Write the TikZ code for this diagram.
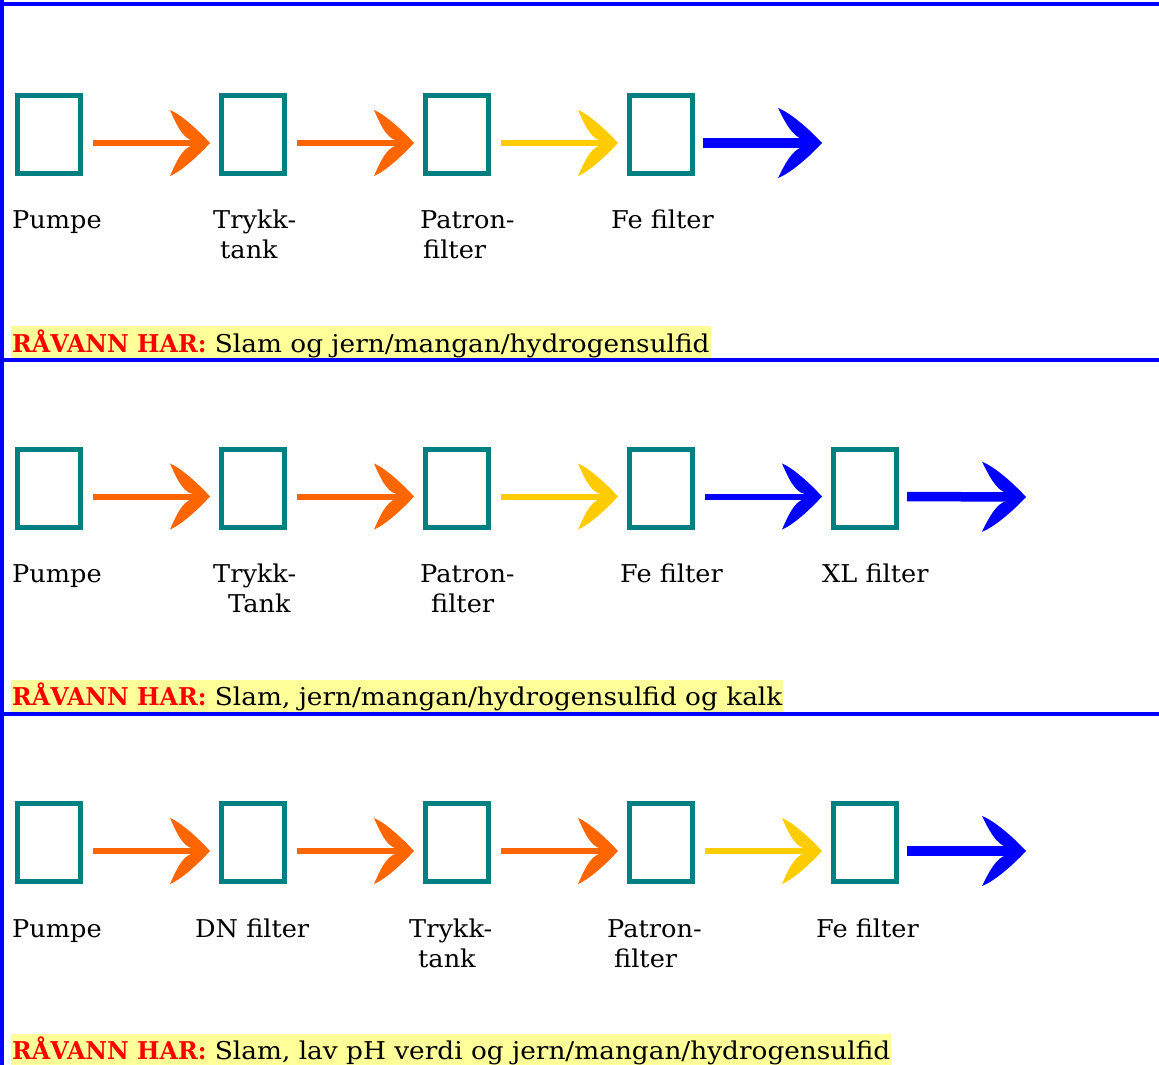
\documentclass[tikz,border=0pt]{standalone}
\usepackage{fontspec}
\setmainfont{DejaVu Serif}[FakeStretch=1.045]
\newfontfamily\notefont{DejaVu Serif}[FakeStretch=1.075]
\newfontfamily\notebold{DejaVu Serif}[FakeStretch=0.97]
\usetikzlibrary{arrows.meta}
\definecolor{boxteal}{HTML}{008080}
\definecolor{flowor}{HTML}{FF6600}
\definecolor{flowye}{HTML}{FFCC00}
\definecolor{flowbl}{HTML}{0000FF}
\definecolor{hlyel}{HTML}{FFFF99}
\definecolor{redtx}{HTML}{FF0000}

\pgfdeclarearrow{
  name = Swoosh,
  setup code = {
    \pgfarrowssettipend{0pt}
    \pgfarrowssetlineend{-10pt}
    \pgfarrowssetbackend{-40pt}
    \pgfarrowssetvisualbackend{-14pt}
    \pgfarrowshullpoint{0pt}{0pt}
    \pgfarrowsupperhullpoint{-40pt}{33pt}
  },
  drawing code = {
    \pgfpathmoveto{\pgfpointorigin}
    \pgfpathcurveto{\pgfpoint{-11pt}{12pt}}{\pgfpoint{-28pt}{28pt}}{\pgfpoint{-40pt}{33pt}}
    \pgfpathcurveto{\pgfpoint{-35pt}{22pt}}{\pgfpoint{-28pt}{4pt}}{\pgfpoint{-17pt}{2.5pt}}
    \pgfpathlineto{\pgfpoint{-17pt}{-2.5pt}}
    \pgfpathcurveto{\pgfpoint{-28pt}{-4pt}}{\pgfpoint{-35pt}{-22pt}}{\pgfpoint{-40pt}{-33pt}}
    \pgfpathcurveto{\pgfpoint{-28pt}{-28pt}}{\pgfpoint{-11pt}{-12pt}}{\pgfpointorigin}
    \pgfpathclose
    \pgfusepathqfill
  }
}
\pgfdeclarearrow{
  name = BigSwoosh,
  setup code = {
    \pgfarrowssettipend{0pt}
    \pgfarrowssetlineend{-11pt}
    \pgfarrowssetbackend{-44pt}
    \pgfarrowssetvisualbackend{-16pt}
    \pgfarrowshullpoint{0pt}{0pt}
    \pgfarrowsupperhullpoint{-44pt}{35pt}
  },
  drawing code = {
    \pgfpathmoveto{\pgfpointorigin}
    \pgfpathcurveto{\pgfpoint{-12pt}{13pt}}{\pgfpoint{-31pt}{30pt}}{\pgfpoint{-44pt}{35pt}}
    \pgfpathcurveto{\pgfpoint{-38pt}{23pt}}{\pgfpoint{-30pt}{6pt}}{\pgfpoint{-19pt}{4pt}}
    \pgfpathlineto{\pgfpoint{-19pt}{-4pt}}
    \pgfpathcurveto{\pgfpoint{-30pt}{-6pt}}{\pgfpoint{-38pt}{-23pt}}{\pgfpoint{-44pt}{-35pt}}
    \pgfpathcurveto{\pgfpoint{-31pt}{-30pt}}{\pgfpoint{-12pt}{-13pt}}{\pgfpointorigin}
    \pgfpathclose
    \pgfusepathqfill
  }
}

\tikzset{
  frame/.style={draw=flowbl, line width=3.8pt},
  unit/.style={draw=boxteal, line width=5pt, minimum width=63pt, minimum height=78pt, inner sep=0pt},
  flow/.style={line width=6pt, -{Swoosh}, shorten <=10pt, shorten >=9pt},
  bigflow/.style={line width=9.5pt, -{BigSwoosh}, shorten <=8pt},
  lbl/.style={anchor=base west, inner sep=0pt, font=\fontsize{24.5}{30}\selectfont},
  note/.style={anchor=base west, fill=hlyel, inner xsep=1pt, inner ysep=0pt, text height=26pt, text depth=6pt, font=\fontsize{24.5}{30}\notefont},
  notehead/.style={text=redtx, font=\fontsize{24.5}{30}\notebold\bfseries}
}
\newcommand{\notelead}{{\fontsize{24.5}{30}\notebold\bfseries\color{redtx}RÅVANN HAR:}}

\begin{document}
\begin{tikzpicture}[x=1pt,y=-1pt]
\useasboundingbox (0,0) rectangle (1159,1065);

% ---------- row 1 ----------
\node[note] (n1) at (11,352) {\notelead{} Slam og jern/mangan/hydrogensulfid};
\foreach \i in {1,...,4} \node[unit] (a\i) at ({49+204*(\i-1)},134.5) {};
\coordinate (aend) at (822,143);
\draw[flow, color=flowor] ([yshift=-8.5pt]a1.east) -- ([yshift=-8.5pt]a2.west);
\draw[flow, color=flowor] ([yshift=-8.5pt]a2.east) -- ([yshift=-8.5pt]a3.west);
\draw[flow, color=flowye] ([yshift=-8.5pt]a3.east) -- ([yshift=-8.5pt]a4.west);
\draw[bigflow, color=flowbl] ([yshift=-8.5pt]a4.east) -- (aend);
\node[lbl] (la1) at (12,228) {Pumpe};
\node[lbl] (la2) at (213,228) {Trykk-};
\node[lbl] (la2b) at (220,258) {tank};
\node[lbl] (la3) at (420,228) {Patron-};
\node[lbl] (la3b) at (423,258) {filter};
\node[lbl] (la4) at (611,228) {Fe filter};

% ---------- row 2 ----------
\node[note] (n2) at (11,705.5) {\notelead{} Slam, jern/mangan/hydrogensulfid og kalk};
\foreach \i in {1,...,5} \node[unit] (b\i) at ({49+204*(\i-1)},488) {};
\coordinate (bend) at (1026,497);
\draw[flow, color=flowor] ([yshift=-8.5pt]b1.east) -- ([yshift=-8.5pt]b2.west);
\draw[flow, color=flowor] ([yshift=-8.5pt]b2.east) -- ([yshift=-8.5pt]b3.west);
\draw[flow, color=flowye] ([yshift=-8.5pt]b3.east) -- ([yshift=-8.5pt]b4.west);
\draw[flow, color=flowbl] ([yshift=-8.5pt]b4.east) -- ([yshift=-8.5pt]b5.west);
\draw[bigflow, color=flowbl] ([yshift=-8.5pt]b5.east) -- (bend);
\node[lbl] (lb1) at (12,582) {Pumpe};
\node[lbl] (lb2) at (213,582) {Trykk-};
\node[lbl] (lb2b) at (228,612) {Tank};
\node[lbl] (lb3) at (420,582) {Patron-};
\node[lbl] (lb3b) at (431,612) {filter};
\node[lbl] (lb4) at (620,582) {Fe filter};
\node[lbl] (lb5) at (822,582) {XL filter};

% ---------- row 3 ----------
\node[note] (n3) at (11,1059.5) {\notelead{} Slam, lav pH verdi og jern/mangan/hydrogensulfid};
\foreach \i in {1,...,5} \node[unit] (c\i) at ({49+204*(\i-1)},842.5) {};
\coordinate (cend) at (1026,851);
\draw[flow, color=flowor] ([yshift=-8.5pt]c1.east) -- ([yshift=-8.5pt]c2.west);
\draw[flow, color=flowor] ([yshift=-8.5pt]c2.east) -- ([yshift=-8.5pt]c3.west);
\draw[flow, color=flowor] ([yshift=-8.5pt]c3.east) -- ([yshift=-8.5pt]c4.west);
\draw[flow, color=flowye] ([yshift=-8.5pt]c4.east) -- ([yshift=-8.5pt]c5.west);
\draw[bigflow, color=flowbl] ([yshift=-8.5pt]c5.east) -- (cend);
\node[lbl] (lc1) at (12,937) {Pumpe};
\node[lbl] (lc2) at (195,937) {DN filter};
\node[lbl] (lc3) at (409,937) {Trykk-};
\node[lbl] (lc3b) at (418,967) {tank};
\node[lbl] (lc4) at (607,937) {Patron-};
\node[lbl] (lc4b) at (614,967) {filter};
\node[lbl] (lc5) at (816,937) {Fe filter};

% ---------- frame ----------
\draw[frame] (0,3.7) -- (1159,3.7);
\draw[frame] (0,360) -- (1159,360);
\draw[frame] (0,714) -- (1159,714);
\draw[frame] (2,0) -- (2,1065);
\end{tikzpicture}
\end{document}
